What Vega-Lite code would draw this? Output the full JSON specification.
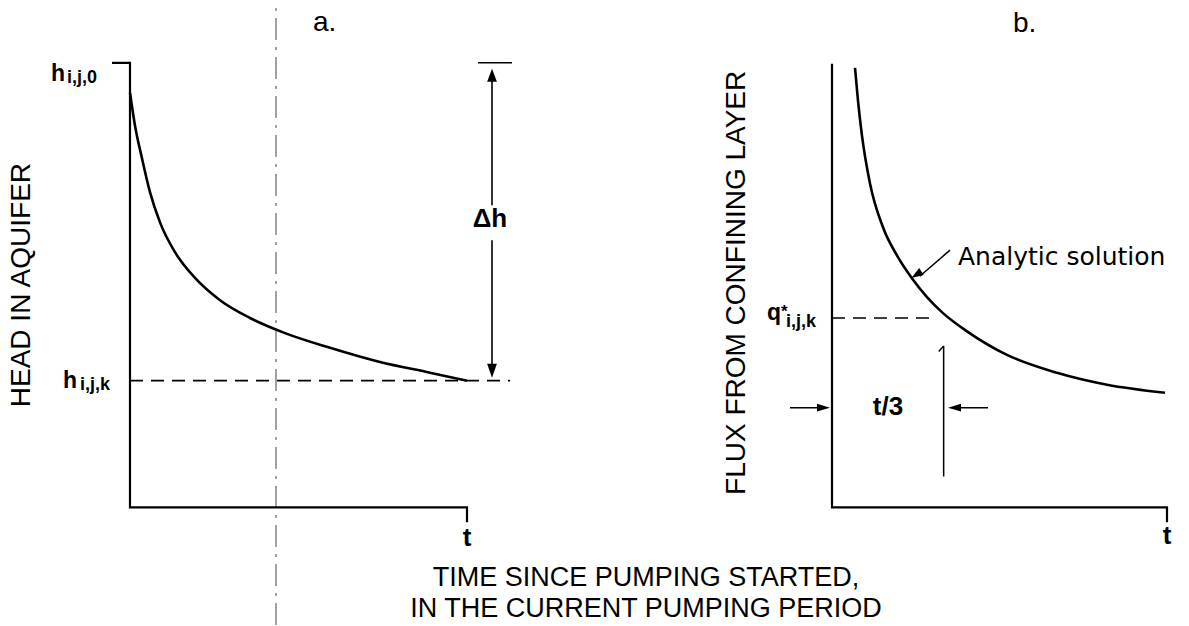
{
  "$schema": "https://vega.github.io/schema/vega-lite/v6.json",
  "width": 1189,
  "height": 626,
  "padding": 0,
  "autosize": {"type": "fit", "contains": "padding"},
  "background": "white",
  "config": {"view": {"stroke": null}, "font": "Liberation Sans"},
  "resolve": {"scale": {"x": "independent", "y": "independent"}},
  "layer": [
    {
      "encoding": {
        "x": {"field": "t", "type": "quantitative", "scale": {"domain": [-0.385757, 3.142433], "nice": false, "zero": false}, "axis": null},
        "y": {"field": "v", "type": "quantitative", "scale": {"domain": [-2.64574, 11.39013], "nice": false, "zero": false}, "axis": null}
      },
      "layer": [
        {
          "data": {"values": [{"t": 0.4332, "t2": 0.4332, "v": -2.6457, "v2": 11.39}]},
          "mark": {"type": "rule", "strokeDash": [22, 7, 3, 7], "strokeWidth": 1, "color": "#444"},
          "encoding": {"x2": {"field": "t2"}, "y2": {"field": "v2"}}
        },
        {
          "data": {"values": [
            {"o": 0, "t": -0.0534, "v": 10.0},
            {"o": 1, "t": 0, "v": 10.0},
            {"o": 2, "t": 0, "v": 0},
            {"o": 3, "t": 1, "v": 0},
            {"o": 4, "t": 1, "v": -0.336}
          ]},
          "mark": {"type": "line", "color": "#000", "strokeWidth": 2.2, "strokeJoin": "miter"},
          "encoding": {"order": {"field": "o"}}
        },
        {
          "data": {"values": [
            {"t": 0, "v": 9.33},
            {"t": 0.0148, "v": 8.59},
            {"t": 0.0356, "v": 7.85},
            {"t": 0.0593, "v": 7.09},
            {"t": 0.089, "v": 6.41},
            {"t": 0.1335, "v": 5.74},
            {"t": 0.1929, "v": 5.16},
            {"t": 0.2671, "v": 4.66},
            {"t": 0.3561, "v": 4.26},
            {"t": 0.4599, "v": 3.92},
            {"t": 0.5935, "v": 3.59},
            {"t": 0.7418, "v": 3.27},
            {"t": 0.8902, "v": 3.03},
            {"t": 1.0, "v": 2.85}
          ]},
          "mark": {"type": "line", "color": "#000", "strokeWidth": 2.6, "interpolate": "monotone"},
          "encoding": {"order": {"field": "t"}}
        },
        {
          "data": {"values": [{"t": 0, "t2": 1.128, "v": 2.85, "v2": 2.85}]},
          "mark": {"type": "rule", "strokeDash": [13, 8], "strokeWidth": 1.6, "color": "#000"},
          "encoding": {"x2": {"field": "t2"}, "y2": {"field": "v2"}}
        },
        {
          "data": {"values": [
            {"t": 1.0326, "t2": 1.1335, "v": 10.0, "v2": 10.0},
            {"t": 1.0742, "t2": 1.0742, "v": 9.7, "v2": 6.794},
            {"t": 1.0742, "t2": 1.0742, "v": 6.009, "v2": 3.05}
          ]},
          "mark": {"type": "rule", "strokeWidth": 1.6, "color": "#000"},
          "encoding": {"x2": {"field": "t2"}, "y2": {"field": "v2"}}
        },
        {
          "data": {"values": [{"t": 1.0742, "v": 9.865}]},
          "mark": {"type": "point", "shape": "M0,0L0.75,2L-0.75,2Z", "size": 169, "filled": true, "color": "#000", "opacity": 1}
        },
        {
          "data": {"values": [{"t": 1.0742, "v": 2.915}]},
          "mark": {"type": "point", "shape": "M0,0L0.7,-2L-0.7,-2Z", "size": 196, "filled": true, "color": "#000", "opacity": 1}
        },
        {
          "data": {"values": [
            {"label": "h", "t": -0.1929, "v": 9.596},
            {"label": "h", "t": -0.1573, "v": 2.691}
          ]},
          "mark": {"type": "text", "align": "right", "baseline": "alphabetic", "fontSize": 23, "fontWeight": "bold", "color": "#000"},
          "encoding": {"text": {"field": "label"}}
        },
        {
          "data": {"values": [
            {"label": "i,j,0", "t": -0.1869, "v": 9.552},
            {"label": "i,j,k", "t": -0.1484, "v": 2.646}
          ]},
          "mark": {"type": "text", "align": "left", "baseline": "alphabetic", "fontSize": 18, "fontWeight": "bold", "color": "#000"},
          "encoding": {"text": {"field": "label"}}
        },
        {
          "data": {"values": [
            {"label": "Δh", "t": 1.068, "v": 6.3},
            {"label": "t", "t": 1.0, "v": -0.874}
          ]},
          "mark": {"type": "text", "align": "center", "baseline": "alphabetic", "fontSize": 26, "fontWeight": "bold", "color": "#000"},
          "encoding": {"text": {"field": "label"}}
        },
        {
          "data": {"values": [{"label": "a.", "t": 0.543, "v": 10.717}]},
          "mark": {"type": "text", "align": "left", "baseline": "alphabetic", "fontSize": 28, "color": "#000"},
          "encoding": {"text": {"field": "label"}}
        },
        {
          "data": {"values": [
            {"label": "TIME SINCE PUMPING STARTED,", "t": 1.5312, "v": -1.771},
            {"label": "IN THE CURRENT PUMPING PERIOD", "t": 1.5312, "v": -2.466}
          ]},
          "mark": {"type": "text", "align": "center", "baseline": "alphabetic", "fontSize": 27, "color": "#000"},
          "encoding": {"text": {"field": "label"}}
        },
        {
          "data": {"values": [{"label": "HEAD IN AQUIFER", "t": -0.3205, "v": 5.0}]},
          "mark": {"type": "text", "align": "center", "baseline": "middle", "angle": 270, "fontSize": 28, "color": "#000"},
          "encoding": {"text": {"field": "label"}}
        }
      ]
    },
    {
      "encoding": {
        "x": {"field": "t", "type": "quantitative", "scale": {"domain": [-2.483582, 1.065672], "nice": false, "zero": false}, "axis": null},
        "y": {"field": "v", "type": "quantitative", "scale": {"domain": [-2.64574, 11.39013], "nice": false, "zero": false}, "axis": null}
      },
      "layer": [
        {
          "data": {"values": [
            {"o": 0, "t": 0, "v": 9.978},
            {"o": 1, "t": 0, "v": 0},
            {"o": 2, "t": 1, "v": 0},
            {"o": 3, "t": 1, "v": -0.336}
          ]},
          "mark": {"type": "line", "color": "#000", "strokeWidth": 2.2, "strokeJoin": "miter"},
          "encoding": {"order": {"field": "o"}}
        },
        {
          "data": {"values": [
            {"t": 0.0687, "v": 9.888},
            {"t": 0.0776, "v": 9.148},
            {"t": 0.0887, "v": 8.408},
            {"t": 0.1134, "v": 7.287},
            {"t": 0.1522, "v": 6.3},
            {"t": 0.197, "v": 5.628},
            {"t": 0.2418, "v": 5.12},
            {"t": 0.2836, "v": 4.73},
            {"t": 0.3313, "v": 4.37},
            {"t": 0.403, "v": 3.96},
            {"t": 0.5224, "v": 3.43},
            {"t": 0.6716, "v": 3.027},
            {"t": 0.8209, "v": 2.758},
            {"t": 0.994, "v": 2.578}
          ]},
          "mark": {"type": "line", "color": "#000", "strokeWidth": 2.6, "interpolate": "monotone"},
          "encoding": {"order": {"field": "t"}}
        },
        {
          "data": {"values": [{"t": 0, "t2": 0.3134, "v": 4.26, "v2": 4.26}]},
          "mark": {"type": "rule", "strokeDash": [13, 8], "strokeWidth": 1.4, "color": "#000"},
          "encoding": {"x2": {"field": "t2"}, "y2": {"field": "v2"}}
        },
        {
          "data": {"values": [
            {"t": -0.1254, "t2": -0.03, "v": 2.242, "v2": 2.242},
            {"t": 0.37, "t2": 0.4657, "v": 2.242, "v2": 2.242},
            {"t": 0.3185, "t2": 0.3333, "v": 3.504, "v2": 3.632},
            {"t": 0.3333, "t2": 0.3333, "v": 3.632, "v2": 0.695},
            {"t": 0.3522, "t2": 0.262, "v": 5.785, "v2": 5.2}
          ]},
          "mark": {"type": "rule", "strokeWidth": 1.5, "color": "#000"},
          "encoding": {"x2": {"field": "t2"}, "y2": {"field": "v2"}}
        },
        {
          "data": {"values": [{"t": -0.006, "v": 2.242}]},
          "mark": {"type": "point", "shape": "M0,0L-2,0.6L-2,-0.6Z", "size": 169, "filled": true, "color": "#000", "opacity": 1}
        },
        {
          "data": {"values": [{"t": 0.3463, "v": 2.242}]},
          "mark": {"type": "point", "shape": "M0,0L2,0.6L2,-0.6Z", "size": 169, "filled": true, "color": "#000", "opacity": 1}
        },
        {
          "data": {"values": [{"t": 0.237, "v": 5.16}]},
          "mark": {"type": "point", "shape": "M0,0L2,0.7L2,-0.7Z", "size": 144, "angle": -33, "filled": true, "color": "#000", "opacity": 1}
        },
        {
          "data": {"values": [{"label": "q", "t": -0.1522, "v": 4.215}]},
          "mark": {"type": "text", "align": "right", "baseline": "alphabetic", "fontSize": 23, "fontWeight": "bold", "color": "#000"},
          "encoding": {"text": {"field": "label"}}
        },
        {
          "data": {"values": [{"label": "*", "t": -0.1522, "v": 4.28}]},
          "mark": {"type": "text", "align": "left", "baseline": "alphabetic", "fontSize": 17, "fontWeight": "bold", "color": "#000"},
          "encoding": {"text": {"field": "label"}}
        },
        {
          "data": {"values": [{"label": "i,j,k", "t": -0.1373, "v": 4.058}]},
          "mark": {"type": "text", "align": "left", "baseline": "alphabetic", "fontSize": 18, "fontWeight": "bold", "color": "#000"},
          "encoding": {"text": {"field": "label"}}
        },
        {
          "data": {"values": [
            {"label": "t/3", "t": 0.1672, "v": 2.085},
            {"label": "t", "t": 1.0, "v": -0.83}
          ]},
          "mark": {"type": "text", "align": "center", "baseline": "alphabetic", "fontSize": 26, "fontWeight": "bold", "color": "#000"},
          "encoding": {"text": {"field": "label"}}
        },
        {
          "data": {"values": [{"label": "b.", "t": 0.54, "v": 10.695}]},
          "mark": {"type": "text", "align": "left", "baseline": "alphabetic", "fontSize": 28, "color": "#000"},
          "encoding": {"text": {"field": "label"}}
        },
        {
          "data": {"values": [{"label": "Analytic solution", "t": 0.3761, "v": 5.448}]},
          "mark": {"type": "text", "align": "left", "baseline": "alphabetic", "fontSize": 25, "font": "DejaVu Sans", "color": "#000"},
          "encoding": {"text": {"field": "label"}}
        },
        {
          "data": {"values": [{"label": "FLUX FROM CONFINING LAYER", "t": -0.2836, "v": 5.05}]},
          "mark": {"type": "text", "align": "center", "baseline": "middle", "angle": 270, "fontSize": 28, "color": "#000"},
          "encoding": {"text": {"field": "label"}}
        }
      ]
    }
  ]
}
